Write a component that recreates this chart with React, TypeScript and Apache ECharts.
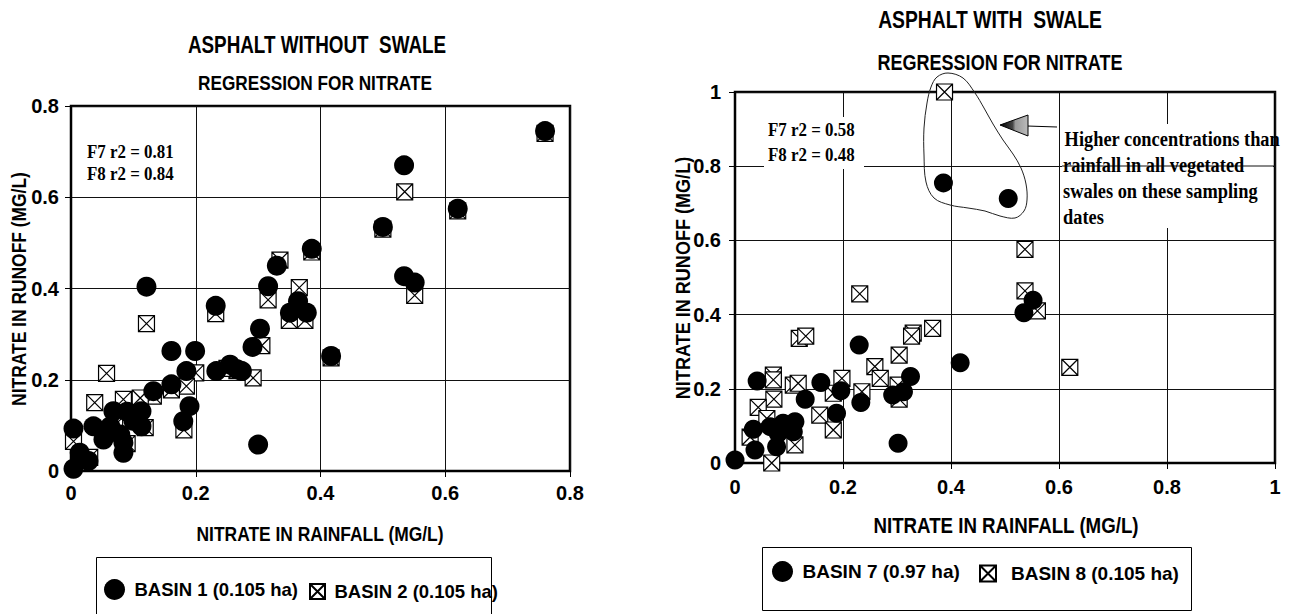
import { useEffect, useRef } from "react";
import * as echarts from "echarts";

// Nitrate in rainfall (x) vs nitrate in runoff (y), mg/L
const basin1: [number, number][] = [
  [0.76, 0.745], [0.534, 0.67], [0.62, 0.575], [0.5, 0.535], [0.386, 0.487],
  [0.534, 0.427], [0.551, 0.413], [0.417, 0.252], [0.121, 0.404], [0.33, 0.45],
  [0.316, 0.405], [0.364, 0.372], [0.351, 0.347], [0.378, 0.347], [0.232, 0.362],
  [0.303, 0.312], [0.291, 0.272], [0.161, 0.263], [0.199, 0.263], [0.185, 0.219],
  [0.233, 0.219], [0.255, 0.233], [0.266, 0.223], [0.274, 0.219], [0.161, 0.19],
  [0.132, 0.175], [0.19, 0.142], [0.18, 0.109], [0.3, 0.058], [0.068, 0.131],
  [0.113, 0.131], [0.113, 0.098], [0.036, 0.098], [0.004, 0.093], [0.063, 0.098],
  [0.084, 0.062], [0.084, 0.04], [0.052, 0.069], [0.014, 0.04], [0.004, 0.005],
  [0.028, 0.022], [0.079, 0.08], [0.1, 0.11], [0.09, 0.13],
];

const basin2: [number, number][] = [
  [0.76, 0.74], [0.535, 0.612], [0.62, 0.57], [0.5, 0.53], [0.386, 0.48],
  [0.551, 0.385], [0.417, 0.248], [0.121, 0.323], [0.335, 0.462], [0.316, 0.375],
  [0.366, 0.402], [0.375, 0.33], [0.232, 0.345], [0.306, 0.275], [0.2, 0.215],
  [0.292, 0.204], [0.057, 0.214], [0.185, 0.186], [0.161, 0.178], [0.132, 0.164],
  [0.038, 0.15], [0.084, 0.157], [0.111, 0.16], [0.181, 0.09], [0.004, 0.065],
  [0.119, 0.095], [0.266, 0.22], [0.25, 0.225], [0.07, 0.1], [0.09, 0.06],
  [0.03, 0.03], [0.35, 0.33],
];

const basin7: [number, number][] = [
  [0.386, 0.755], [0.506, 0.713], [0.552, 0.439], [0.535, 0.405], [0.417, 0.27],
  [0.23, 0.318], [0.325, 0.233], [0.292, 0.183], [0.312, 0.192], [0.233, 0.163],
  [0.196, 0.195], [0.159, 0.217], [0.13, 0.172], [0.188, 0.134], [0.041, 0.221],
  [0.034, 0.091], [0.065, 0.098], [0.089, 0.107], [0.111, 0.111], [0.108, 0.084],
  [0.08, 0.08], [0.037, 0.035], [0.077, 0.044], [0.0, 0.008], [0.302, 0.053],
];

const basin8: [number, number][] = [
  [0.388, 1.0], [0.537, 0.576], [0.537, 0.464], [0.56, 0.41], [0.62, 0.258],
  [0.231, 0.456], [0.119, 0.336], [0.131, 0.342], [0.33, 0.35], [0.327, 0.342],
  [0.366, 0.363], [0.304, 0.291], [0.259, 0.26], [0.269, 0.228], [0.302, 0.21],
  [0.304, 0.172], [0.235, 0.192], [0.198, 0.228], [0.182, 0.188], [0.071, 0.237],
  [0.071, 0.224], [0.108, 0.21], [0.117, 0.215], [0.072, 0.172], [0.043, 0.15],
  [0.157, 0.129], [0.182, 0.089], [0.059, 0.12], [0.111, 0.049], [0.068, 0.0],
  [0.028, 0.07],
];

const leftNames = ["BASIN 1 (0.105 ha)", "BASIN 2 (0.105 ha)"];
const rightNames = ["BASIN 7 (0.97 ha)", "BASIN 8 (0.105 ha)"];
const leftTitles = ["ASPHALT WITHOUT  SWALE", "REGRESSION FOR NITRATE"];
const rightTitles = ["ASPHALT WITH  SWALE", "REGRESSION FOR NITRATE"];
const xName = "NITRATE IN RAINFALL (MG/L)";
const yName = "NITRATE IN RUNOFF (MG/L)";
const leftR2 = ["F7 r2 = 0.81", "F8 r2 = 0.84"];
const rightR2 = ["F7 r2 = 0.58", "F8 r2 = 0.48"];
const noteLines = [
  " Higher concentrations than",
  "rainfall in all vegetated",
  "swales on these sampling",
  "dates",
];

const SANS = "'Liberation Sans', Arial, sans-serif";
const SERIF = "'Liberation Serif', 'Times New Roman', serif";
const BOXED_X = "path://M0,0L20,0L20,20L0,20Z M0,0L20,20 M20,0L0,20";

const axisCommon = (gridIndex: number, max: number, margin: number) => ({
  type: "value" as const,
  gridIndex,
  min: 0,
  max,
  interval: 0.2,
  axisLine: { show: true, onZero: false, lineStyle: { color: "#000", width: 2 } },
  axisTick: { show: true, length: 6, lineStyle: { color: "#000", width: 1 } },
  splitLine: { show: true, lineStyle: { color: "#111", width: 1 } },
  axisLabel: { margin, fontFamily: SANS, fontSize: 20, fontWeight: "bold" as const, color: "#000" },
});

// condensed bold sans text, as in the printed figure
const narrow = (text: string, x: number, y: number, size: number, sx: number, rotation = 0) => ({
  type: "text",
  x,
  y,
  z: 100,
  rotation,
  scaleX: sx,
  style: {
    text,
    fontFamily: SANS,
    fontSize: size,
    fontWeight: "bold",
    fill: "#000",
    align: "center",
    verticalAlign: "middle",
  },
});

const serifText = (text: string, x: number, y: number, size: number, sx: number) => ({
  type: "text",
  x,
  y,
  z: 102,
  scaleX: sx,
  style: {
    text,
    fontFamily: SERIF,
    fontSize: size,
    fontWeight: "bold",
    fill: "#000",
    align: "left",
    verticalAlign: "middle",
  },
});

const legendText = (size: number) => ({ fontFamily: SANS, fontSize: size, fontWeight: "bold" as const, color: "#000" });

export default function App() {
  const ref = useRef<HTMLDivElement>(null);

  useEffect(() => {
    if (!ref.current) return;
    const chart = echarts.init(ref.current, undefined, { renderer: "svg" });

    const option: any = {
      animation: false,
      backgroundColor: "#fff",
      grid: [
        { left: 71, top: 106, width: 499, height: 365, show: true, borderColor: "#000", borderWidth: 2.5, backgroundColor: "transparent" },
        { left: 735, top: 92, width: 540, height: 371, show: true, borderColor: "#000", borderWidth: 2.5, backgroundColor: "transparent" },
      ],
      xAxis: [axisCommon(0, 0.8, 12), axisCommon(1, 1, 14)],
      yAxis: [axisCommon(0, 0.8, 12), axisCommon(1, 1, 14)],
      legend: [
        {
          data: [{ name: leftNames[0], icon: "circle" }],
          left: 104, top: 579, itemWidth: 30, itemHeight: 21, padding: 0, selectedMode: false,
          textStyle: legendText(18.5),
        },
        {
          data: [{ name: leftNames[1], icon: BOXED_X }],
          left: 309, top: 582, itemWidth: 24, itemHeight: 15, padding: 0, selectedMode: false,
          textStyle: legendText(18.5),
        },
        {
          data: [{ name: rightNames[0], icon: "circle" }],
          left: 772, top: 561, itemWidth: 30, itemHeight: 21, padding: 0, selectedMode: false,
          textStyle: legendText(19),
        },
        {
          data: [{ name: rightNames[1], icon: BOXED_X }],
          left: 979, top: 564, itemWidth: 36, itemHeight: 16, padding: 0, selectedMode: false,
          textStyle: legendText(19),
        },
      ],
      series: [
        {
          type: "scatter", name: leftNames[1], xAxisIndex: 0, yAxisIndex: 0, data: basin2,
          symbol: BOXED_X, symbolSize: 16,
          itemStyle: { color: "#fff", borderColor: "#000", borderWidth: 1.2, opacity: 1 },
        },
        {
          type: "scatter", name: leftNames[0], xAxisIndex: 0, yAxisIndex: 0, data: basin1,
          symbol: "circle", symbolSize: 20, itemStyle: { color: "#000", opacity: 1 },
        },
        {
          type: "scatter", name: rightNames[1], xAxisIndex: 1, yAxisIndex: 1, data: basin8,
          symbol: BOXED_X, symbolSize: 16,
          itemStyle: { color: "#fff", borderColor: "#000", borderWidth: 1.2, opacity: 1 },
        },
        {
          type: "scatter", name: rightNames[0], xAxisIndex: 1, yAxisIndex: 1, data: basin7,
          symbol: "circle", symbolSize: 19, itemStyle: { color: "#000", opacity: 1 },
        },
      ],
      graphic: [
        narrow(leftTitles[0], 317, 45, 23, 0.82),
        narrow(leftTitles[1], 315, 83, 21, 0.82),
        narrow(rightTitles[0], 990, 20, 23, 0.84),
        narrow(rightTitles[1], 1000, 62, 22, 0.82),
        narrow(xName, 320, 534, 21, 0.83),
        narrow(xName, 1006, 525, 22, 0.85),
        narrow(yName, 19, 289, 21, 0.83, Math.PI / 2),
        narrow(yName, 682, 278, 21, 0.86, Math.PI / 2),
        serifText(leftR2[0], 87, 152, 19, 0.89),
        serifText(leftR2[1], 87, 174, 19, 0.89),
        { type: "rect", z: 101, shape: { x: 764, y: 117, width: 100, height: 52 }, style: { fill: "#fff", stroke: null } },
        serifText(rightR2[0], 768, 130, 19, 0.89),
        serifText(rightR2[1], 768, 155, 19, 0.89),
        // note box with the 0.8 gridline running through it
        { type: "rect", z: 101, shape: { x: 1062, y: 124, width: 211, height: 104 }, style: { fill: "#fff", stroke: null } },
        { type: "line", z: 101, shape: { x1: 1062, y1: 166, x2: 1275, y2: 166 }, style: { stroke: "#111", lineWidth: 1 } },
        serifText(noteLines[0], 1060, 139, 20, 0.92),
        serifText(noteLines[1], 1063, 165, 20, 0.92),
        serifText(noteLines[2], 1063, 191, 20, 0.92),
        serifText(noteLines[3], 1063, 217, 20, 0.92),
        // arrow pointing at the circled samples
        { type: "line", z: 102, shape: { x1: 1027, y1: 126, x2: 1057, y2: 127 }, style: { stroke: "#000", lineWidth: 1 } },
        {
          type: "polygon", z: 102,
          shape: { points: [[1000, 125], [1028, 115], [1028, 136]] },
          style: {
            stroke: "#000", lineWidth: 1,
            fill: new echarts.graphic.LinearGradient(0, 0, 1, 0, [
              { offset: 0, color: "#000" },
              { offset: 0.45, color: "#444" },
              { offset: 0.55, color: "#999" },
              { offset: 1, color: "#bbb" },
            ]),
          },
        },
        {
          type: "polygon", z: 102,
          shape: {
            smooth: 0.35,
            points: [
              [948, 73], [963, 78], [975, 93], [984, 108], [993, 124], [1003, 140], [1013, 154],
              [1021, 168], [1026, 184], [1027, 200], [1024, 211], [1015, 218], [1000, 216],
              [985, 211], [968, 208], [950, 205], [934, 198], [926, 182], [924, 155], [924, 128],
              [927, 103], [931, 87], [937, 77],
            ],
          },
          style: { fill: null, stroke: "#222", lineWidth: 1 },
        },
        // legend frames
        { type: "rect", z: 100, shape: { x: 96.5, y: 557.5, width: 395, height: 70 }, style: { fill: null, stroke: "#000", lineWidth: 1 } },
        { type: "rect", z: 100, shape: { x: 762.5, y: 547.5, width: 429, height: 63 }, style: { fill: null, stroke: "#000", lineWidth: 1 } },
      ],
    };

    chart.setOption(option);
    return () => chart.dispose();
  }, []);

  return (
    <div
      ref={ref}
      style={{ position: "absolute", left: 0, top: 0, width: 1296, height: 614, background: "#fff" }}
    />
  );
}
